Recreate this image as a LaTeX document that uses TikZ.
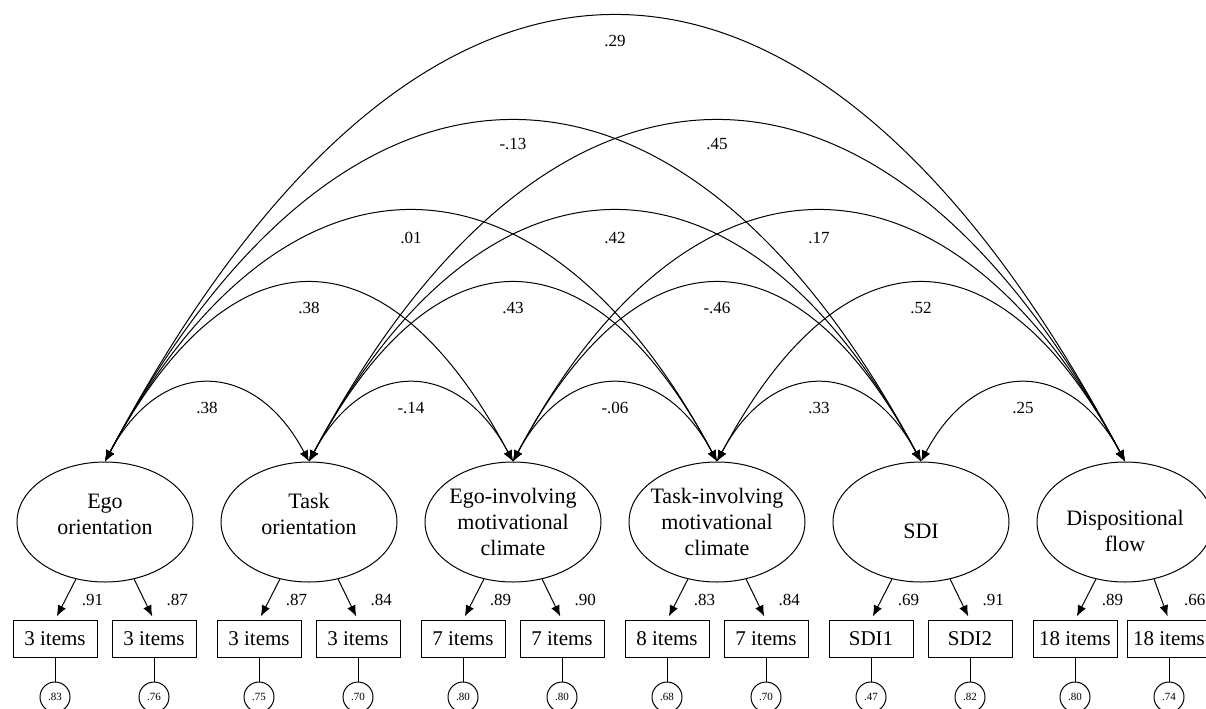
\documentclass[tikz,border=0pt]{standalone}
\usepackage{fontspec}
\setmainfont{Liberation Serif}
\usepackage{tikz}
\usetikzlibrary{positioning, shapes.geometric, arrows.meta}

\tikzset{
  latent/.style={draw, ellipse, minimum width=88pt, minimum height=60pt, inner sep=0pt},
  lvtext/.style={inner sep=0pt, align=center, font=\fontsize{11}{13}\selectfont},
  indic/.style={draw, rectangle, minimum width=42pt, minimum height=18.5pt, inner sep=0pt,
    font=\fontsize{10.5}{12}\selectfont},
  errc/.style={draw, circle, minimum size=15pt, inner sep=0pt, font=\fontsize{5.5}{6}\selectfont},
  coef/.style={inner sep=0pt, font=\fontsize{8.5}{10}\selectfont},
}

\begin{document}
\begin{tikzpicture}[x=0.5pt, y=-0.5pt, line width=0.5pt, >={Latex[length=5.5pt,width=4.5pt]}]
            \useasboundingbox (0,0) rectangle (1206,708);

            % Variaveis latentes
            \node[latent] (ego) at (105,522) {};
            \node[latent] (task) at (309,522) {};
            \node[latent] (egoclim) at (513,522) {};
            \node[latent] (taskclim) at (717,522) {};
            \node[latent] (sdi) at (921,522) {};
            \node[latent] (flow) at (1125,522) {};

            % Nomes das variaveis
            \node[lvtext] (egolab) at ([yshift=4pt]ego.center) {Ego\\orientation};
            \node[lvtext] (tasklab) at ([yshift=4pt]task.center) {Task\\orientation};
            \node[lvtext] (egoclimlab) at (egoclim.center) {Ego-involving\\motivational\\climate};
            \node[lvtext] (taskclimlab) at (taskclim.center) {Task-involving\\motivational\\climate};
            \node[lvtext] (sdilab) at ([yshift=-4.5pt]sdi.center) {SDI};
            \node[lvtext] (flowlab) at ([yshift=-4.5pt]flow.center) {Dispositional\\flow};

            % Indicadores, cargas e erros
            \foreach \lv/\cx/\rx/\ta/\tb/\la/\lb/\ea/\eb in {
                ego/105/49/3 items/3 items/.91/.87/.83/.76,
                task/309/49/3 items/3 items/.87/.84/.75/.70,
                egoclim/513/49/7 items/7 items/.89/.90/.80/.80,
                taskclim/717/49/8 items/7 items/.83/.84/.68/.70,
                sdi/921/49/SDI1/SDI2/.69/.91/.47/.82,
                flow/1125/44/18 items/18 items/.89/.66/.80/.74} {
              \node[indic] (\lv1) at (\cx-50,639) {\ta};
              \node[indic] (\lv2) at (\cx+\rx,639) {\tb};
              \node[errc] (e\lv1) at (\cx-50,697) {\ea};
              \node[errc] (e\lv2) at (\cx+\rx,697) {\eb};
              \draw[->, shorten >=2pt] (\lv.-117) -- (\lv1.north) node[coef, midway, right=8pt] {\la};
              \draw[->, shorten >=2pt] (\lv.-63) -- (\lv2.north) node[coef, midway, right=11pt] {\lb};
              \draw (\lv1) -- (e\lv1);
              \draw (\lv2) -- (e\lv2);
            }

            % Covariancias entre vizinhos
            \draw[<->] (ego.north) .. controls +(55,-104) and +(-55,-104) .. (task.north) node[coef, midway, yshift=-12pt] {.38};
            \draw[<->] (task.north) .. controls +(55,-104) and +(-55,-104) .. (egoclim.north) node[coef, midway, yshift=-12pt] {-.14};
            \draw[<->] (egoclim.north) .. controls +(55,-104) and +(-55,-104) .. (taskclim.north) node[coef, midway, yshift=-12pt] {-.06};
            \draw[<->] (taskclim.north) .. controls +(55,-104) and +(-55,-104) .. (sdi.north) node[coef, midway, yshift=-12pt] {.33};
            \draw[<->] (sdi.north) .. controls +(55,-104) and +(-55,-104) .. (flow.north) node[coef, midway, yshift=-12pt] {.25};

            % Distancia 2
            \draw[<->] (ego.north) .. controls +(126,-237) and +(-126,-237) .. (egoclim.north) node[coef, midway, yshift=-12pt] {.38};
            \draw[<->] (task.north) .. controls +(126,-237) and +(-126,-237) .. (taskclim.north) node[coef, midway, yshift=-12pt] {.43};
            \draw[<->] (egoclim.north) .. controls +(126,-237) and +(-126,-237) .. (sdi.north) node[coef, midway, yshift=-12pt] {-.46};
            \draw[<->] (taskclim.north) .. controls +(126,-237) and +(-126,-237) .. (flow.north) node[coef, midway, yshift=-12pt] {.52};

            % Distancia 3
            \draw[<->] (ego.north) .. controls +(177,-333) and +(-177,-333) .. (taskclim.north) node[coef, midway, yshift=-13pt] {.01};
            \draw[<->] (task.north) .. controls +(177,-333) and +(-177,-333) .. (sdi.north) node[coef, midway, yshift=-13pt] {.42};
            \draw[<->] (egoclim.north) .. controls +(177,-333) and +(-177,-333) .. (flow.north) node[coef, midway, yshift=-13pt] {.17};

            % Distancia 4 e 5
            \draw[<->] (ego.north) .. controls +(241,-453) and +(-241,-453) .. (sdi.north) node[coef, midway, yshift=-11pt] {-.13};
            \draw[<->] (task.north) .. controls +(241,-453) and +(-241,-453) .. (flow.north) node[coef, midway, yshift=-11pt] {.45};
            \draw[<->] (ego.north) .. controls +(315,-593) and +(-315,-593) .. (flow.north) node[coef, midway, yshift=-12pt] {.29};
        \end{tikzpicture}
\end{document}
